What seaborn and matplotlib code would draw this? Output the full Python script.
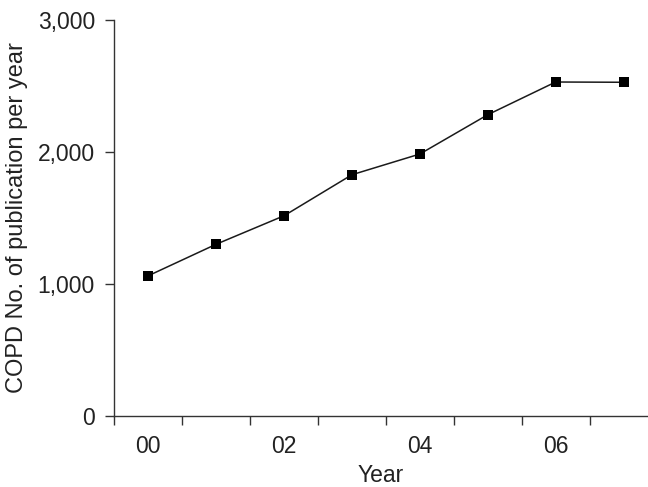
import matplotlib
matplotlib.use("Agg")
import matplotlib.pyplot as plt
import seaborn as sns
import pandas as pd

# Data
years = ["00", "01", "02", "03", "04", "05", "06", "07"]
publications = [1061, 1300, 1516, 1827, 1984, 2282, 2530, 2528]
year_labels = ["00", "02", "04", "06"]
y_ticks = [0, 1000, 2000, 3000]

df = pd.DataFrame({"Year": years, "Publications": publications})

sns.set_style("white")
plt.rcParams["font.family"] = ["Liberation Sans", "DejaVu Sans"]

fig = plt.figure(figsize=(6.48, 4.87), dpi=100)
ax = fig.add_axes([0.1764, 0.1464, 0.8236, 0.8125])

sns.lineplot(
    data=df, x="Year", y="Publications", ax=ax,
    color="#1a1a1a", linewidth=1.1,
    marker="s", markersize=6.8, markeredgewidth=0,
    markerfacecolor="black",
)

ax.set_xlim(-0.5, 7.36)
ax.set_ylim(0, 3000)

# ticks at category boundaries, labels at every other year
ax.set_xticks([i - 0.5 for i in range(len(years))])
ax.set_xticklabels([])
label_pos = [years.index(y) for y in year_labels]
ax.set_xticks(label_pos, minor=True)
ax.set_xticklabels(year_labels, minor=True)
ax.tick_params(axis="x", which="major", direction="out", length=6.5, width=1.0,
               color="#333333", bottom=True)
ax.tick_params(axis="x", which="minor", length=0, pad=14, labelsize=16.5,
               labelcolor="#222222")

ax.set_yticks(y_ticks)
ax.set_yticklabels([f"{v:,}" for v in y_ticks])
ax.tick_params(axis="y", direction="out", length=6.5, width=1.0, color="#333333",
               left=True, pad=7.5, labelsize=16.5, labelcolor="#222222")

for side in ["top", "right"]:
    ax.spines[side].set_visible(False)
for side in ["left", "bottom"]:
    ax.spines[side].set_color("#333333")
    ax.spines[side].set_linewidth(1.0)

ax.set_xlabel("Year", fontsize=16.5, color="#222222", labelpad=4)
ax.set_ylabel("COPD No. of publication per year", fontsize=17, color="#222222",
              labelpad=7)

fig.savefig("out.png", dpi=100)
